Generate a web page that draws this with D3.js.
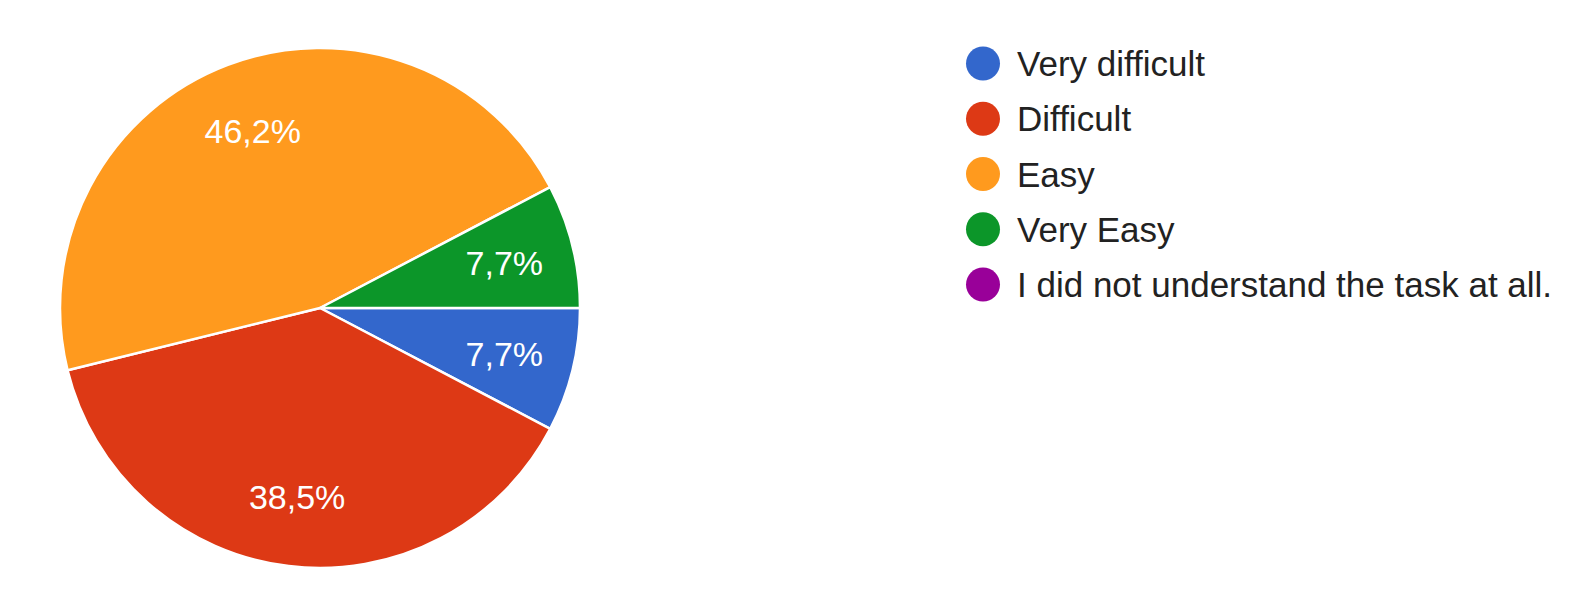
<!DOCTYPE html>
<html>
<head>
<meta charset="utf-8">
<script src="https://cdn.jsdelivr.net/npm/d3@7"></script>
<style>
  html, body { margin: 0; padding: 0; background: #ffffff; }
  svg { display: block; font-family: "Liberation Sans", Arial, Helvetica, sans-serif; }
</style>
</head>
<body>
<svg id="chart" width="1594" height="614"></svg>
<script>
const categories = ["Very difficult", "Difficult", "Easy", "Very Easy", "I did not understand the task at all."];
const counts = [1, 5, 6, 1, 0];
const percentLabels = ["7,7%", "38,5%", "46,2%", "7,7%", "0%"];
const colors = ["#3367cc", "#dd3915", "#ff9a1e", "#0c9629", "#990099"];

const svg = d3.select("#chart");
const cx = 320, cy = 308, radius = 260;

const data = categories.map((c, i) => ({ name: c, value: counts[i], label: percentLabels[i], color: colors[i] }));

const pie = d3.pie()
  .value(d => d.value)
  .sort(null)
  .startAngle(Math.PI / 2)
  .endAngle(Math.PI / 2 + 2 * Math.PI);

const arcs = pie(data);
const arc = d3.arc().innerRadius(0).outerRadius(radius);
const labelArc = d3.arc().innerRadius(radius * 0.73).outerRadius(radius * 0.73);

const g = svg.append("g").attr("transform", `translate(${cx},${cy})`);

g.selectAll("path.slice")
  .data(arcs.filter(a => a.data.value > 0))
  .join("path")
  .attr("class", "slice")
  .attr("d", arc)
  .attr("fill", d => d.data.color)
  .attr("stroke", "#ffffff")
  .attr("stroke-width", 2.5)
  .attr("stroke-linejoin", "round");

g.selectAll("text.plabel")
  .data(arcs.filter(a => a.data.value > 0))
  .join("text")
  .attr("class", "plabel")
  .attr("transform", d => `translate(${labelArc.centroid(d)})`)
  .attr("text-anchor", "middle")
  .attr("dy", "0.36em")
  .attr("fill", "#ffffff")
  .attr("font-size", 34)
  .text(d => d.data.label);

// Legend
const legendX = 983, legendY0 = 63.5, legendStep = 55.25;
const legend = svg.append("g");
const items = legend.selectAll("g.item")
  .data(data)
  .join("g")
  .attr("class", "item")
  .attr("transform", (d, i) => `translate(${legendX},${legendY0 + i * legendStep})`);

items.append("circle")
  .attr("r", 17)
  .attr("fill", d => d.color);

items.append("text")
  .attr("x", 34)
  .attr("y", 12.5)
  .attr("fill", "#222222")
  .attr("font-size", 35)
  .text(d => d.name);
</script>
</body>
</html>
